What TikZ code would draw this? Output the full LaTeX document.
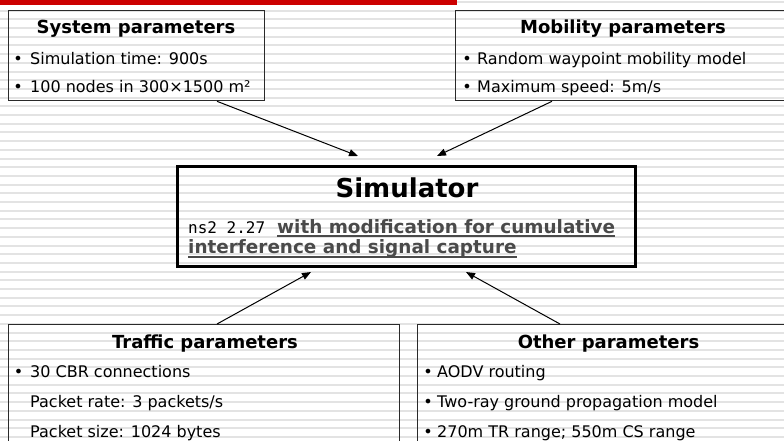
\documentclass[tikz,border=0pt]{standalone}
\usepackage{fontspec}
\setmainfont{DejaVu Sans}
\setmonofont{DejaVu Sans Mono}
\usetikzlibrary{calc,arrows.meta}
\definecolor{stripegray}{HTML}{E3E3E3}
\definecolor{barred}{HTML}{CC0000}
\definecolor{ulgray}{HTML}{4A4A4A}
\definecolor{boxline}{HTML}{2A2A2A}
\begin{document}
\begin{tikzpicture}[x=1pt,y=-1pt,
  pbox/.style={draw=boxline,line width=1.3pt,rectangle,inner sep=0pt,anchor=north west},
  simbox/.style={draw=black,line width=3pt,rectangle,inner sep=0pt,anchor=north west},
  ttl/.style={font=\fontsize{18}{20}\selectfont\bfseries,anchor=base,inner sep=0pt},
  simttl/.style={font=\fontsize{26}{28}\selectfont\bfseries,anchor=base,inner sep=0pt},
  txt/.style={font=\fontsize{16}{18}\selectfont,anchor=base west,inner sep=0pt},
  mono/.style={font=\fontsize{16}{18}\selectfont\ttfamily,anchor=base west,inner sep=0pt},
  ultxt/.style={font=\fontsize{18.4}{20}\selectfont\bfseries,text=ulgray,anchor=base west,inner sep=0pt},
  bul/.style={font=\fontsize{16}{18}\selectfont,anchor=base,inner sep=0pt},
  conn/.style={draw=black,line width=1pt,-{Triangle[length=9pt,width=7pt]}},
  ul/.style={draw=ulgray,line width=1.8pt}]
\useasboundingbox (0,0) rectangle (784,440);
\begin{scope}
\clip (0,0) rectangle (784,440);
\foreach \i in {0,...,51} \fill[stripegray] (0,{0.9+8.7*\i}) rectangle (784,{2.9+8.7*\i});
\fill[barred] (0,0) rectangle (457,5);

% boxes
\node[pbox,minimum width=256,minimum height=90] (sys) at (8,10) {};
\node[pbox,minimum width=336,minimum height=90] (mob) at (455,10) {};
\node[simbox,minimum width=458,minimum height=100] (sim) at (176,165) {};
\node[pbox,minimum width=391,minimum height=140] (traf) at (8,324) {};
\node[pbox,minimum width=383,minimum height=140] (oth) at (417,324) {};

% system
\node[ttl] (systtl) at (136,33) {System parameters};
\node[bul] (sysb1) at (18,64) {•};
\node[txt] (syst1) at (30,64) {Simulation time: 900s};
\node[bul] (sysb2) at (18,92) {•};
\node[txt] (syst2) at (30,92) {100 nodes in 300×1500 m²};

% mobility
\node[ttl] (mobttl) at (623,33) {Mobility parameters};
\node[bul] (mobb1) at (467,64) {•};
\node[txt] (mobt1) at (477,64) {Random waypoint mobility model};
\node[bul] (mobb2) at (467,92) {•};
\node[txt] (mobt2) at (477,92) {Maximum speed: 5m/s};

% simulator
\node[simttl] (simttl) at (407,197) {Simulator};
\node[mono] (ns) at (188,233) {ns2 2.27};
\node[ultxt] (u1) at (277,233) {with modification for cumulative};
\node[ultxt] (u2) at (188,253) {interference and signal capture};
\draw[ul] ($(u1.base west)+(0,3)$) -- ($(u1.base east)+(0,3)$);
\draw[ul] ($(u2.base west)+(0,4)$) -- ($(u2.base east)+(0,4)$);

% traffic
\node[ttl] (trafttl) at (205,348) {Traffic parameters};
\node[bul] (trafb1) at (18.5,377) {•};
\node[txt] (traft1) at (30,377) {30 CBR connections};
\node[txt] (traft2) at (30,407) {Packet rate: 3 packets/s};
\node[txt] (traft3) at (30,437) {Packet size: 1024 bytes};

% other
\node[ttl] (othttl) at (608.5,348) {Other parameters};
\node[bul] (othb1) at (428,377) {•};
\node[txt] (otht1) at (437,377) {AODV routing};
\node[bul] (othb2) at (428,407) {•};
\node[txt] (otht2) at (437,407) {Two-ray ground propagation model};
\node[bul] (othb3) at (428,437) {•};
\node[txt] (otht3) at (437,437) {270m TR range; 550m CS range};

% connectors
\draw[conn] ($(sys.south west)+(209,0)$) -- ($(sim.north west)+(182,-9)$);
\draw[conn] ($(mob.south west)+(97,0)$) -- ($(sim.north west)+(261,-9)$);
\draw[conn] ($(traf.north west)+(209,0)$) -- ($(sim.south west)+(135,4)$);
\draw[conn] ($(oth.north west)+(143,0)$) -- ($(sim.south west)+(290,4)$);
\end{scope}
\end{tikzpicture}
\end{document}
